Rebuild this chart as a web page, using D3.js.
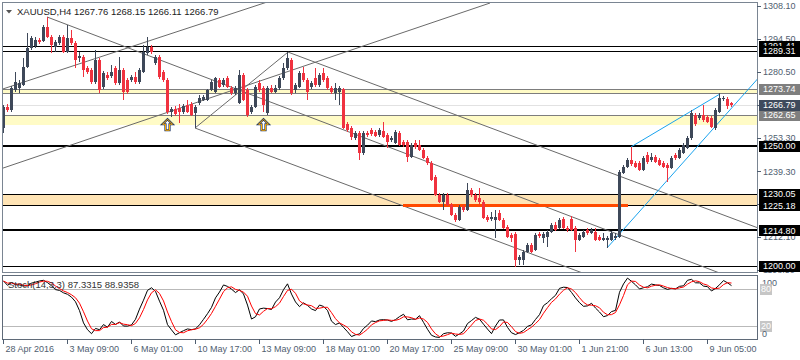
<!DOCTYPE html>
<html><head><meta charset="utf-8">
<script src="https://cdn.jsdelivr.net/npm/d3@7/dist/d3.min.js"></script>
<style>
body{margin:0;background:#fff;}
svg{display:block;font-family:"Liberation Sans",Arial,sans-serif;}
</style></head><body>
<svg id="c" width="800" height="360"></svg>
<script>
// ---------- DATA (XAUUSD H4) ----------
const symbolTitle = "XAUUSD,H4  1267.76 1268.15 1266.11 1266.79";
const stochTitle = "Stoch(14,3,3) 87.3315 88.9358";

const opens = [1257.4,1266.1,1264.8,1273.2,1274.0,1275.2,1282.7,1290.6,1291.4,1293.9,1293.5,1299.3,1295.2,1291.0,1292.7,1295.2,1288.9,1294.8,1292.7,1286.4,
1286.9,1282.3,1281.5,1276.5,1285.6,1274.4,1279.4,1279.0,1282.3,1276.1,1281.5,1277.3,1277.3,1278.6,1276.5,1280.6,1288.5,1291.0,1284.4,1286.9,
1280.6,1277.3,1264.0,1265.3,1265.7,1264.0,1266.9,1267.3,1263.6,1267.7,1269.0,1269.0,1273.2,1272.3,1277.3,1275.2,1278.1,1274.0,1271.9,1267.7,
1279.4,1273.2,1264.0,1266.1,1276.1,1274.0,1263.6,1274.0,1272.3,1274.0,1278.1,1282.3,1285.6,1273.2,1274.4,1280.2,1277.3,1274.4,1278.1,1275.2,
1280.2,1278.1,1274.0,1271.9,1272.3,1273.6,1259.0,1257.4,1253.2,1255.3,1247.0,1255.3,1256.5,1255.7,1254.4,1256.1,1254.4,1252.4,1251.1,1255.3,
1251.5,1251.5,1245.3,1251.1,1250.3,1248.2,1244.9,1242.8,1237.0,1229.5,1226.6,1229.5,1225.4,1221.2,1219.1,1224.5,1223.3,1231.6,1229.5,1228.3,
1226.6,1220.4,1219.5,1219.1,1222.0,1219.1,1216.2,1212.9,1213.3,1202.5,1202.5,1205.8,1208.7,1206.7,1213.3,1211.6,1212.1,1214.1,1217.0,1215.8,
1219.5,1215.8,1219.5,1215.8,1210.8,1212.1,1215.0,1213.7,1214.1,1212.1,1210.8,1210.8,1210.8,1211.6,1212.1,1238.7,1241.1,1244.1,1242.8,1242.8,
1239.9,1246.1,1244.1,1245.3,1244.1,1242.8,1242.0,1240.7,1246.1,1244.9,1247.0,1249.0,1253.2,1262.8,1261.5,1262.8,1261.9,1261.5,1257.4,1264.0,
1269.4,1269.4,1267.76];
const highs = [1266.9,1267.3,1274.8,1280.6,1277.3,1286.4,1296.8,1295.6,1295.2,1294.8,1300.2,1303.5,1296.0,1293.9,1296.0,1296.0,1300.2,1298.1,1293.5,1288.9,
1287.7,1283.1,1282.3,1289.8,1286.4,1281.0,1280.6,1283.5,1283.1,1286.9,1282.3,1278.1,1279.4,1280.6,1282.3,1291.9,1295.2,1291.9,1287.7,1287.7,
1281.5,1278.1,1266.1,1266.5,1267.3,1267.3,1269.0,1268.2,1266.9,1271.1,1271.1,1273.6,1277.3,1278.6,1278.1,1278.1,1279.0,1274.8,1274.8,1281.5,
1280.2,1274.0,1266.9,1275.2,1277.3,1274.8,1274.8,1275.2,1275.2,1279.0,1284.4,1288.9,1286.4,1276.1,1281.0,1282.7,1278.1,1276.9,1282.3,1280.2,
1282.3,1279.0,1274.8,1276.1,1274.8,1274.0,1259.9,1258.2,1256.1,1256.1,1256.1,1256.1,1257.4,1256.5,1257.4,1259.9,1255.3,1254.0,1256.5,1256.1,
1252.4,1252.4,1251.1,1252.4,1252.4,1249.0,1245.7,1243.6,1237.8,1230.3,1230.3,1230.3,1226.2,1222.0,1225.4,1225.4,1234.5,1232.4,1230.3,1232.4,
1227.4,1221.2,1222.4,1223.3,1223.3,1220.0,1217.0,1213.7,1214.1,1204.6,1206.7,1209.6,1209.6,1213.7,1214.1,1214.1,1215.0,1217.9,1218.3,1220.0,
1220.4,1216.6,1220.8,1216.6,1213.7,1214.9,1215.8,1215.8,1215.8,1212.9,1213.7,1212.5,1214.6,1213.7,1239.9,1242.0,1244.9,1249.5,1243.6,1243.6,
1245.7,1247.4,1247.0,1246.1,1244.9,1243.6,1242.8,1245.7,1247.0,1249.0,1251.1,1254.0,1264.8,1263.6,1263.6,1266.9,1262.8,1262.3,1265.7,1271.9,
1270.7,1270.2,1268.15];
const lows = [1255.3,1264.0,1264.0,1272.3,1271.9,1274.8,1282.3,1289.8,1290.6,1292.3,1293.1,1294.8,1288.5,1288.9,1291.9,1288.5,1288.5,1291.9,1282.3,1284.8,
1278.6,1279.8,1275.6,1275.6,1271.9,1273.6,1277.3,1278.1,1275.2,1275.2,1269.0,1271.5,1276.5,1275.6,1275.6,1280.2,1287.7,1288.1,1283.5,1277.7,
1276.5,1263.2,1261.9,1262.3,1259.4,1263.2,1263.6,1262.3,1257.4,1266.9,1268.6,1268.6,1272.7,1271.9,1274.0,1274.4,1274.0,1271.1,1271.1,1267.3,
1268.6,1261.9,1263.2,1265.7,1272.3,1264.0,1262.8,1271.9,1271.9,1273.2,1277.3,1281.5,1271.1,1271.9,1274.0,1276.5,1269.0,1273.6,1274.4,1274.4,
1276.5,1273.2,1271.5,1269.0,1266.9,1256.9,1255.7,1252.4,1252.4,1244.1,1246.1,1253.6,1254.0,1253.6,1253.6,1253.2,1249.0,1251.5,1250.7,1249.9,
1249.5,1243.2,1244.9,1248.6,1247.8,1244.5,1242.0,1235.3,1229.1,1226.2,1223.3,1224.9,1220.8,1218.3,1218.7,1222.4,1222.9,1228.7,1226.6,1225.8,
1219.5,1218.3,1218.7,1211.6,1218.7,1215.4,1211.6,1210.0,1199.6,1200.4,1200.4,1205.4,1205.4,1206.2,1211.6,1209.6,1207.9,1213.7,1214.6,1215.4,
1215.4,1214.1,1214.6,1205.8,1210.4,1211.6,1212.9,1213.3,1210.4,1210.4,1210.4,1207.5,1210.4,1210.8,1211.6,1238.2,1240.7,1241.6,1240.7,1239.5,
1239.5,1242.4,1243.2,1242.8,1241.6,1240.7,1234.9,1240.3,1244.0,1244.5,1246.6,1248.6,1252.4,1258.2,1260.7,1259.9,1259.4,1257.4,1256.5,1263.6,
1268.6,1265.3,1266.11];
const closes = [1266.1,1264.8,1274.0,1276.5,1276.1,1282.7,1290.6,1294.8,1293.9,1293.1,1299.3,1295.2,1291.9,1293.1,1295.2,1288.9,1294.8,1292.7,1285.6,1287.3,
1281.5,1280.6,1276.5,1285.6,1273.2,1280.2,1278.1,1280.6,1276.1,1281.5,1272.3,1272.3,1278.6,1276.5,1281.5,1288.9,1291.0,1288.9,1286.9,1278.6,
1277.3,1264.0,1265.3,1263.2,1264.0,1266.5,1264.0,1262.8,1266.1,1269.8,1270.2,1273.2,1276.5,1278.1,1274.4,1277.3,1274.4,1271.9,1274.0,1279.4,
1269.0,1262.8,1266.1,1274.4,1273.2,1266.9,1274.0,1272.3,1274.0,1278.1,1282.3,1286.4,1271.9,1275.2,1280.2,1277.3,1272.3,1276.1,1275.2,1279.4,
1277.3,1274.0,1272.3,1274.0,1274.0,1257.4,1256.5,1253.6,1255.3,1247.0,1255.3,1254.4,1254.9,1254.0,1256.5,1253.6,1251.5,1253.2,1255.7,1250.3,
1250.3,1245.3,1250.3,1249.5,1248.2,1244.9,1242.8,1235.7,1229.5,1226.6,1229.5,1225.4,1221.2,1219.1,1224.5,1223.3,1231.6,1229.5,1227.4,1226.6,
1220.0,1219.1,1220.4,1220.4,1219.1,1215.8,1212.1,1211.6,1202.5,1203.7,1205.8,1208.7,1205.8,1212.9,1212.5,1213.3,1214.1,1217.0,1215.0,1219.1,
1215.8,1215.0,1215.0,1210.8,1212.9,1214.1,1213.7,1215.0,1210.8,1210.8,1211.6,1211.6,1213.7,1212.5,1239.1,1241.1,1244.1,1242.4,1241.1,1239.9,
1244.9,1243.2,1245.3,1243.2,1242.0,1241.1,1240.7,1244.9,1244.9,1248.2,1250.3,1253.2,1263.6,1259.0,1262.8,1260.7,1259.9,1257.8,1264.8,1269.8,
1269.8,1266.5,1266.79];

// time axis: labels every 16 bars
const timeTickBars = [0,16,32,48,64,80,96,112,128,144,160,176];
const timeLabels = ["28 Apr 2016","3 May 09:00","6 May 01:00","10 May 17:00","13 May 09:00","18 May 01:00",
  "20 May 17:00","25 May 09:00","30 May 01:00","1 Jun 21:00","6 Jun 13:00","9 Jun 05:00"];

// price axis regular ticks
const priceTicks = [1308.10,1294.50,1280.50,1266.90,1253.30,1239.30,1225.70,1212.10,1198.50];

// drawn objects
const blackLevels = [1291.41,1289.31,1230.05,1225.18,1200.00];
const thickLevels = [1250.00,1214.80];
const greyLevels = [1273.74,1271.90,1262.65];
const currentPrice = 1266.79;
const yellowZones = [[1273.74,1271.90],[1262.65,1258.60]];
const peachZones = [[1230.05,1225.18]];
const orangeSeg = {price:1225.18, from:100, to:156.25};
const boxedBlack = [1291.41,1289.31,1250.00,1230.05,1225.18,1214.80,1200.00];
const boxedGrey = [1273.74,1262.65];
// trend lines in (bar, price)
const greyTrend = [
  [11,1303.5,91.75,1252.4,true],
  [71.25,1288.9,187.5,1216.6,true],
  [48,1257.35,144.25,1197.5,true],
  [0,1273.6,66.75,1310.1,false],
  [0,1240.7,121.75,1309.3,false],
  [48,1257.35,71.25,1288.9,false]
];
const blueTrend = [
  [151,1207.5,185.5,1271.9,true],
  [157,1249.5,179.25,1271.5,false]
];
const arrowsUp = [[41,1261.0],[65,1261.0]];
const stochLevels = [80,20];
const stochAxis = [100,80,20,0];

// ---------- CHART ----------
const svg = d3.select('#c');
const N = opens.length;
const x = d3.scaleLinear().domain([-0.25,188.5]).range([2,757]);
const y = d3.scaleLinear().domain([1197.51,1309.31]).range([272,3]);
const ys = d3.scaleLinear().domain([0,100]).range([338.3,276.7]);
const X0 = 2, X1 = 757;

const defs = svg.append('defs');
defs.append('clipPath').attr('id','cm').append('rect').attr('x',3).attr('y',3).attr('width',754).attr('height',269);
defs.append('clipPath').attr('id','cs').append('rect').attr('x',3).attr('y',276).attr('width',754).attr('height',63);

const gm = svg.append('g').attr('clip-path','url(#cm)');
const r = v => Math.round(v);

// zones
yellowZones.forEach(z=>{
  gm.append('rect').attr('x',X0).attr('width',X1-X0).attr('y',r(y(z[0]))).attr('height',r(y(z[1]))-r(y(z[0])))
    .attr('fill','#fffbc6');
});
peachZones.forEach(z=>{
  gm.append('rect').attr('x',X0).attr('width',X1-X0).attr('y',r(y(z[0]))).attr('height',r(y(z[1]))-r(y(z[0])))
    .attr('fill','#ffe4b5');
});
// horizontal lines
function hline(p,color,w){
  gm.append('rect').attr('x',X0).attr('width',X1-X0).attr('y',r(y(p))-Math.floor(w/2)).attr('height',w)
    .attr('fill',color).attr('shape-rendering','crispEdges');
}
hline(currentPrice,'#e2e2e2',1);
greyLevels.forEach(p=>hline(p,'#7d7d7d',1));
blackLevels.forEach(p=>hline(p,'#000',1));
thickLevels.forEach(p=>hline(p,'#000',2));

// trend lines
function tline(t,color){
  let [b1,p1,b2,p2,ray]=t;
  let bx=b2, px=p2;
  if(ray){ const s=(p2-p1)/(b2-b1); bx=200; px=p1+s*(bx-b1); }
  gm.append('line').attr('x1',x(b1)).attr('y1',y(p1)).attr('x2',x(bx)).attr('y2',y(px))
    .attr('stroke',color).attr('stroke-width',1);
}
greyTrend.forEach(t=>tline(t,'#6a6a6a'));
blueTrend.forEach(t=>tline(t,'#1aa3ee'));

// orange segment
gm.append('rect').attr('x',r(x(orangeSeg.from))).attr('width',r(x(orangeSeg.to))-r(x(orangeSeg.from)))
  .attr('y',r(y(orangeSeg.price))-1).attr('height',3).attr('fill','#ff4a00');

// candles
const bullC='#3e4859', bearC='#f0323f';
const cg = gm.append('g').attr('shape-rendering','crispEdges');
d3.range(N).forEach(i=>{
  const o=opens[i],h=highs[i],l=lows[i],c=closes[i];
  const col = c>=o?bullC:bearC;
  const cx = r(x(i));
  const yh=r(y(h)), yl=r(y(l));
  cg.append('rect').attr('x',cx).attr('width',1).attr('y',yh).attr('height',Math.max(1,yl-yh)).attr('fill',col);
  const yt=r(y(Math.max(o,c))), yb=r(y(Math.min(o,c)));
  cg.append('rect').attr('x',cx-1).attr('width',3).attr('y',yt).attr('height',Math.max(1,yb-yt)).attr('fill',col);
});

// arrows
arrowsUp.forEach(a=>{
  const ax=x(a[0])+0.5, ay=y(a[1]);
  const d=`M${ax},${ay} L${ax+5},${ay+5} L${ax+2},${ay+5} L${ax+2},${ay+11} L${ax-2},${ay+11} L${ax-2},${ay+5} L${ax-5},${ay+5} Z`;
  gm.append('path').attr('d',d).attr('fill','#fff').attr('stroke','#1d3566').attr('stroke-width',2.2).attr('stroke-linejoin','miter');
  gm.append('path').attr('d',d).attr('fill','none').attr('stroke','#ffae00').attr('stroke-width',1);
});

// frames
svg.append('rect').attr('x',2.5).attr('y',2.5).attr('width',755).attr('height',270).attr('fill','none').attr('stroke','#7a8592');
svg.append('rect').attr('x',2.5).attr('y',275.5).attr('width',755).attr('height',64).attr('fill','none').attr('stroke','#5f6a78');

// title
svg.append('path').attr('d','M6,10 L12,10 L9,13.5 Z').attr('fill','#555');
svg.append('text').attr('x',17).attr('y',15).attr('font-size',9.5).attr('fill','#222').text(symbolTitle);

// price axis
const axC='#4f5e70';
const pa = svg.append('g');
priceTicks.forEach(p=>{
  pa.append('line').attr('x1',757).attr('x2',761).attr('y1',r(y(p))+0.5).attr('y2',r(y(p))+0.5).attr('stroke',axC);
  pa.append('text').attr('x',763).attr('y',y(p)).attr('dy','0.35em').attr('font-size',9).attr('fill',axC).text(p.toFixed(2));
});
function box(p,bg,fg){
  const yy=y(p);
  pa.append('rect').attr('x',759).attr('y',r(yy)-5).attr('width',41).attr('height',11).attr('fill',bg);
  pa.append('text').attr('x',763).attr('y',yy).attr('dy','0.35em').attr('font-size',9).attr('fill',fg).text(p.toFixed(2));
}
boxedGrey.forEach(p=>box(p,'#7f7f7f','#fff'));
box(currentPrice,'#3e4a5c','#fff');
boxedBlack.forEach(p=>box(p,'#000','#fff'));

// stochastic (14,3,3) from the candles
const K=[],D=[],HH=[],LL=[];
for(let i=0;i<N;i++){
  const s=Math.max(0,i-13);
  HH[i]=d3.max(highs.slice(s,i+1)); LL[i]=d3.min(lows.slice(s,i+1));
}
for(let i=0;i<N;i++){
  const s=Math.max(0,i-2); let num=0,den=0;
  for(let j=s;j<=i;j++){num+=closes[j]-LL[j];den+=HH[j]-LL[j];}
  K[i]=den>0?100*num/den:50;
}
for(let i=0;i<N;i++){const s=Math.max(0,i-2); D[i]=d3.mean(K.slice(s,i+1));}

const gs = svg.append('g').attr('clip-path','url(#cs)');
stochLevels.forEach(v=>{
  gs.append('line').attr('x1',3).attr('x2',757).attr('y1',r(ys(v))+0.5).attr('y2',r(ys(v))+0.5).attr('stroke','#b9b9b9');
});
const ln = d3.line().x((d,i)=>x(i)+0.5).y(d=>ys(d));
gs.append('path').attr('d',ln(K)).attr('fill','none').attr('stroke','#000').attr('stroke-width',1);
gs.append('path').attr('d',ln(D)).attr('fill','none').attr('stroke','#ff0000').attr('stroke-width',1);
svg.append('text').attr('x',8).attr('y',288).attr('font-size',9.5).attr('fill','#333').text(stochTitle);

stochAxis.forEach(v=>{
  const yy = v===100?282.5:(v===0?333.5:ys(v));
  if(v===80||v===20){
    svg.append('rect').attr('x',760).attr('y',r(yy)-5).attr('width',12).attr('height',11).attr('fill','#c6c6c6');
    svg.append('text').attr('x',761).attr('y',yy).attr('dy','0.35em').attr('font-size',9).attr('fill','#fff').text(v);
  } else {
    svg.append('text').attr('x',762).attr('y',yy).attr('dy','0.35em').attr('font-size',9).attr('fill',axC).text(v);
  }
});

// time axis
timeTickBars.forEach((b,k)=>{
  const tx=r(x(b))+0.5;
  svg.append('line').attr('x1',tx).attr('x2',tx).attr('y1',339).attr('y2',344).attr('stroke',axC);
  svg.append('text').attr('x',tx+2).attr('y',352).attr('font-size',9).attr('fill',axC).text(timeLabels[k]);
});
</script>
</body></html>
